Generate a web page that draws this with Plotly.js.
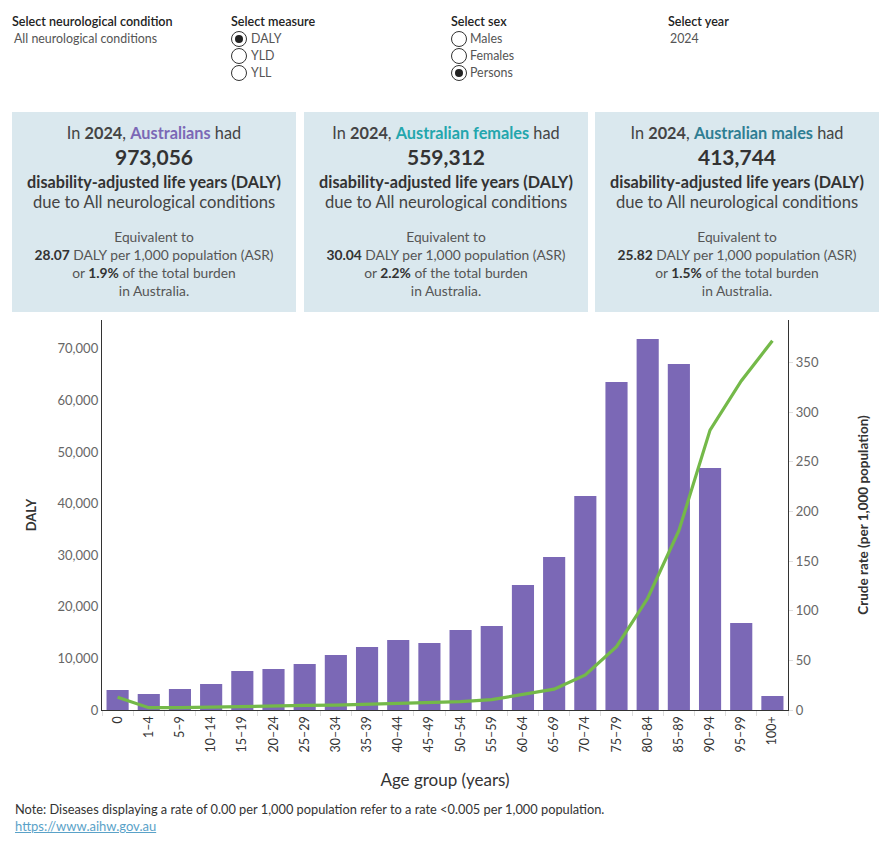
<!DOCTYPE html>
<html>
<head>
<meta charset="utf-8">
<script src="https://cdn.plot.ly/plotly-3.0.1.min.js"></script>
<style>
  html, body { margin:0; padding:0; background:#fff; }
  body { width:890px; height:850px; position:relative; overflow:hidden; font-family: Lato, "Noto Sans", sans-serif; color:#333; }
  .abs { position:absolute; white-space:nowrap; }
  .lbl { font-size:12.6px; color:#222; font-weight:600; }
  .val { font-size:12.4px; color:#555; }
  .radio { position:absolute; width:14px; height:14px; border:1px solid #333; border-radius:50%; background:#fff; }
  .radio.on::after { content:""; position:absolute; left:3px; top:3px; width:8px; height:8px; border-radius:50%; background:#222; }
  .card { position:absolute; top:112px; height:200px; width:284px; background:#dae8ee; }
  .line { position:absolute; left:0; right:0; text-align:center; white-space:nowrap; }
  #chart { position:absolute; left:0; top:0; width:890px; height:850px; }
  .note { font-size:12.8px; color:#333; }
  .link { font-size:13px; color:#5aa2c8; text-decoration:underline; }
</style>
</head>
<body>
<div id="chart"></div>

<div class="abs lbl" style="left:12px; top:14px;">Select neurological condition</div>
<div class="abs val" style="left:14px; top:31px;">All neurological conditions</div>

<div class="abs lbl" style="left:231px; top:14px;">Select measure</div>
<div class="radio on" style="left:231px; top:31px;"></div><div class="abs val" style="left:251px; top:31px;">DALY</div>
<div class="radio" style="left:231px; top:48px;"></div><div class="abs val" style="left:251px; top:48px;">YLD</div>
<div class="radio" style="left:231px; top:65px;"></div><div class="abs val" style="left:251px; top:65px;">YLL</div>

<div class="abs lbl" style="left:451px; top:14px;">Select sex</div>
<div class="radio" style="left:451px; top:31px;"></div><div class="abs val" style="left:470px; top:31px;">Males</div>
<div class="radio" style="left:451px; top:48px;"></div><div class="abs val" style="left:470px; top:48px;">Females</div>
<div class="radio on" style="left:451px; top:65px;"></div><div class="abs val" style="left:470px; top:65px;">Persons</div>

<div class="abs lbl" style="left:668px; top:14px;">Select year</div>
<div class="abs val" style="left:670px; top:31px;">2024</div>

<div id="cards"></div>

<div class="abs note" style="left:15px; top:801px;">Note: Diseases displaying a rate of 0.00 per 1,000 population refer to a rate &lt;0.005 per 1,000 population.</div>
<div class="abs link" style="left:15px; top:818px;">https://www.aihw.gov.au</div>

<script>
// ---- data ----
const ageGroups = ["0","1–4","5–9","10–14","15–19","20–24","25–29","30–34","35–39","40–44","45–49","50–54","55–59","60–64","65–69","70–74","75–79","80–84","85–89","90–94","95–99","100+"];
const dalyValues = [3880, 3100, 4070, 5040, 7560, 7950, 8910, 10660, 12210, 13570, 12980, 15500, 16280, 24220, 29650, 41470, 63570, 71900, 67050, 46900, 16860, 2710];
const crudeRates = [12.8, 2.3, 2.4, 3.0, 4.0, 4.3, 4.6, 5.0, 5.8, 6.7, 7.3, 8.5, 10.4, 16.0, 21.0, 35.3, 63.8, 112.6, 180.7, 282.0, 331.6, 372.0];

const cardGroups = ["Australians", "Australian females", "Australian males"];
const cardTotals = ["973,056", "559,312", "413,744"];
const cardASR = ["28.07", "30.04", "25.82"];
const cardShare = ["1.9%", "2.2%", "1.5%"];
const cardColors = ["#7b68b6", "#23a6ad", "#2f7e93"];
const cardLefts = [12, 304, 595];

// ---- KPI cards ----
const cardsEl = document.getElementById('cards');
cardGroups.forEach((g, i) => {
  const c = document.createElement('div');
  c.className = 'card';
  c.style.left = cardLefts[i] + 'px';
  const lines = [
    [21, 16.3, `<span style="color:#444">In <b>2024</b>, <b style="color:${cardColors[i]}">${g}</b> had</span>`],
    [45, 21, `<b style="color:#333">${cardTotals[i]}</b>`],
    [70, 16.2, `<b style="color:#333">disability-adjusted life years (DALY)</b>`],
    [90, 16.6, `<span style="color:#444">due to All neurological conditions</span>`],
    [125, 13.8, `<span style="color:#555">Equivalent to</span>`],
    [143, 13.8, `<span style="color:#555"><b style="color:#333">${cardASR[i]}</b> DALY per 1,000 population (ASR)</span>`],
    [161, 13.8, `<span style="color:#555">or <b style="color:#333">${cardShare[i]}</b> of the total burden</span>`],
    [179, 13.8, `<span style="color:#555">in Australia.</span>`]
  ];
  lines.forEach(([cy, fs, html]) => {
    const d = document.createElement('div');
    d.className = 'line';
    d.style.top = (cy - 12) + 'px';
    d.style.height = '24px';
    d.style.lineHeight = '24px';
    d.style.fontSize = fs + 'px';
    d.innerHTML = html;
    c.appendChild(d);
  });
  cardsEl.appendChild(c);
});

// ---- chart ----
const bars = {
  type: 'bar',
  x: ageGroups,
  y: dalyValues,
  marker: { color: '#7b68b6' },
  yaxis: 'y',
  hoverinfo: 'x+y'
};
const line = {
  type: 'scatter',
  mode: 'lines',
  x: ageGroups,
  y: crudeRates,
  line: { color: '#74b949', width: 3.2 },
  yaxis: 'y2',
  hoverinfo: 'x+y'
};
const layout = {
  width: 890, height: 850,
  margin: { l: 102, r: 102, t: 320, b: 140 },
  paper_bgcolor: 'rgba(0,0,0,0)',
  plot_bgcolor: 'rgba(0,0,0,0)',
  showlegend: false,
  bargap: 0.29,
  font: { family: 'Lato, "Noto Sans", sans-serif', color: '#333' },
  xaxis: {
    type: 'category',
    tickangle: -90,
    tickfont: { size: 12.5, color: '#333' },
    showline: true, linecolor: '#333', linewidth: 1.2,
    ticks: 'outside', ticklen: 5, tickcolor: '#ddd', tickson: 'boundaries',
    showgrid: false,
    title: { text: 'Age group (years)', font: { size: 17, color: '#333' }, standoff: 22 },
    fixedrange: true
  },
  yaxis: {
    range: [0, 75600],
    tickvals: [0, 10000, 20000, 30000, 40000, 50000, 60000, 70000],
    ticktext: ['0', '10,000', '20,000', '30,000', '40,000', '50,000', '60,000', '70,000'],
    tickfont: { size: 13, color: '#666' },
    showline: true, linecolor: '#333', linewidth: 1.2,
    ticks: '', showgrid: false, zeroline: false,
    title: { text: '<b>DALY</b>', font: { size: 13, color: '#333' }, standoff: 18 },
    fixedrange: true
  },
  yaxis2: {
    overlaying: 'y', side: 'right',
    range: [0, 393],
    tickvals: [0, 50, 100, 150, 200, 250, 300, 350],
    tickfont: { size: 13, color: '#666' },
    showline: true, linecolor: '#333', linewidth: 1.2,
    ticks: 'outside', ticklen: 4, tickcolor: '#ddd',
    showgrid: false, zeroline: false,
    title: { text: '<b>Crude rate (per 1,000 population)</b>', font: { size: 13.5, color: '#333' }, standoff: 40 },
    fixedrange: true
  }
};
Plotly.newPlot('chart', [bars, line], layout, { displayModeBar: false, staticPlot: true });
</script>
</body>
</html>
